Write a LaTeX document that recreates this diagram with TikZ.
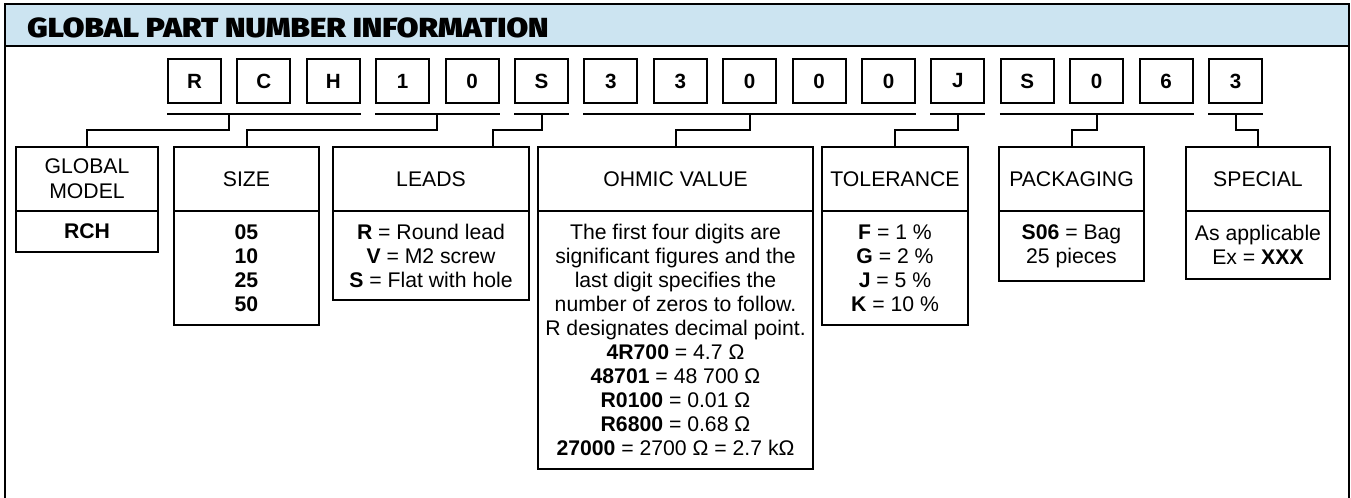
\documentclass[tikz,border=0pt]{standalone}
\usepackage{fontspec}
\setmainfont{Liberation Sans}
\newfontfamily\heavyfont{Fira Sans}[UprightFont=* Black]
\usepackage{tikz}
\usetikzlibrary{positioning,calc}
\definecolor{bandblue}{RGB}{204,228,241}

\begin{document}
\begin{tikzpicture}[x=0.5pt,y=-0.5pt,
    codebox/.style={draw, line width=1pt, minimum width=26.5pt, minimum height=22pt,
      inner sep=0pt, font=\bfseries\fontsize{10.3}{12}\selectfont},
    headbox/.style={draw, line width=1pt, outer sep=0pt, minimum height=32pt,
      align=center, inner sep=0pt, font=\fontsize{10.6}{12.5}\selectfont},
    bodybox/.style={draw, line width=1pt, outer sep=0pt, align=center,
      inner sep=0pt, font=\fontsize{10.6}{12}\selectfont},
    link/.style={line width=1pt}]
    \useasboundingbox (0,0) rectangle (1351,498);
    \fill[bandblue] (5,4) rectangle (1349,46);
    \draw[line width=1.2pt] (5,498) -- (5,4) -- (1349,4) -- (1349,498);
    \draw[line width=1.2pt] (5,46) -- (1349,46);
    \node[anchor=base west, inner sep=0pt,
      font=\heavyfont\fontsize{13.8}{16}\selectfont] (title) at (27,37)
      {\scalebox{1.135}[1]{GLOBAL PART NUMBER INFORMATION}};
    \foreach \ch [count=\i] in {R,C,H,1,0,S,3,3,0,0,0,J,S,0,6,3}
    \node[codebox] (c\i) at ({194.5+69.4*(\i-1)},81) {\ch};
    \foreach \a/\b in {1/3, 4/5, 6/6, 7/11, 12/12, 13/15, 16/16}
    \draw[link] ([yshift=-5pt]c\a.south west) -- ([yshift=-5pt]c\b.south east);
    \node[headbox, minimum width=71pt] (gm-h) at (87,179) {GLOBAL\\MODEL};
    \node[bodybox, minimum width=71pt, minimum height=20.5pt, below=0pt of gm-h] (gm-b)
      {\textbf{RCH}};
    \node[headbox, minimum width=72.5pt] (sz-h) at (246.5,179) {SIZE};
    \node[bodybox, minimum width=72.5pt, minimum height=57pt, below=0pt of sz-h] (sz-b)
      {\textbf{05}\\\textbf{10}\\\textbf{25}\\\textbf{50}};
    \node[headbox, minimum width=98pt] (ld-h) at (431,179) {LEADS};
    \node[bodybox, minimum width=98pt, minimum height=44.5pt, below=0pt of ld-h] (ld-b)
      {\textbf{R} = Round lead\\\textbf{V} = M2 screw\\\textbf{S} = Flat with hole};
    \node[headbox, minimum width=137.5pt] (ov-h) at (675.5,179) {OHMIC VALUE};
    \node[bodybox, minimum width=137.5pt, minimum height=129pt, below=0pt of ov-h] (ov-b)
      {The first four digits are\\significant figures and the\\last digit specifies the\\
       number of zeros to follow.\\R designates decimal point.\\
       \textbf{4R700} = 4.7 Ω\\\textbf{48701} = 48 700 Ω\\\textbf{R0100} = 0.01 Ω\\
       \textbf{R6800} = 0.68 Ω\\\textbf{27000} = 2700 Ω = 2.7 kΩ};
    \node[headbox, minimum width=73pt] (tl-h) at (895,179) {TOLERANCE};
    \node[bodybox, minimum width=73pt, minimum height=57pt, below=0pt of tl-h] (tl-b)
      {\textbf{F} = 1 \%\\\textbf{G} = 2 \%\\\textbf{J} = 5 \%\\\textbf{K} = 10 \%};
    \node[headbox, minimum width=72.5pt] (pk-h) at (1071.5,179) {PACKAGING};
    \node[bodybox, minimum width=72.5pt, minimum height=35pt, below=0pt of pk-h] (pk-b)
      {\textbf{S06} = Bag\\25 pieces};
    \node[headbox, minimum width=72pt] (sp-h) at (1258,179) {SPECIAL};
    \node[bodybox, minimum width=72pt, minimum height=34pt, below=0pt of sp-h] (sp-b)
      {As applicable\\Ex = \textbf{XXX}};
    \foreach \a/\b/\t/\s in {1/2/gm/0pt, 4/5/sz/0pt, 6/6/ld/31pt, 7/11/ov/0pt,
      12/12/tl/0pt, 13/15/pk/0pt, 16/16/sp/0pt}
    \draw[link] ($(c\a.south)!0.5!(c\b.south)+(0,-5pt)$) -- ++(0,-8pt)
      -| ([xshift=\s]\t-h.north);
  \end{tikzpicture}
\end{document}
